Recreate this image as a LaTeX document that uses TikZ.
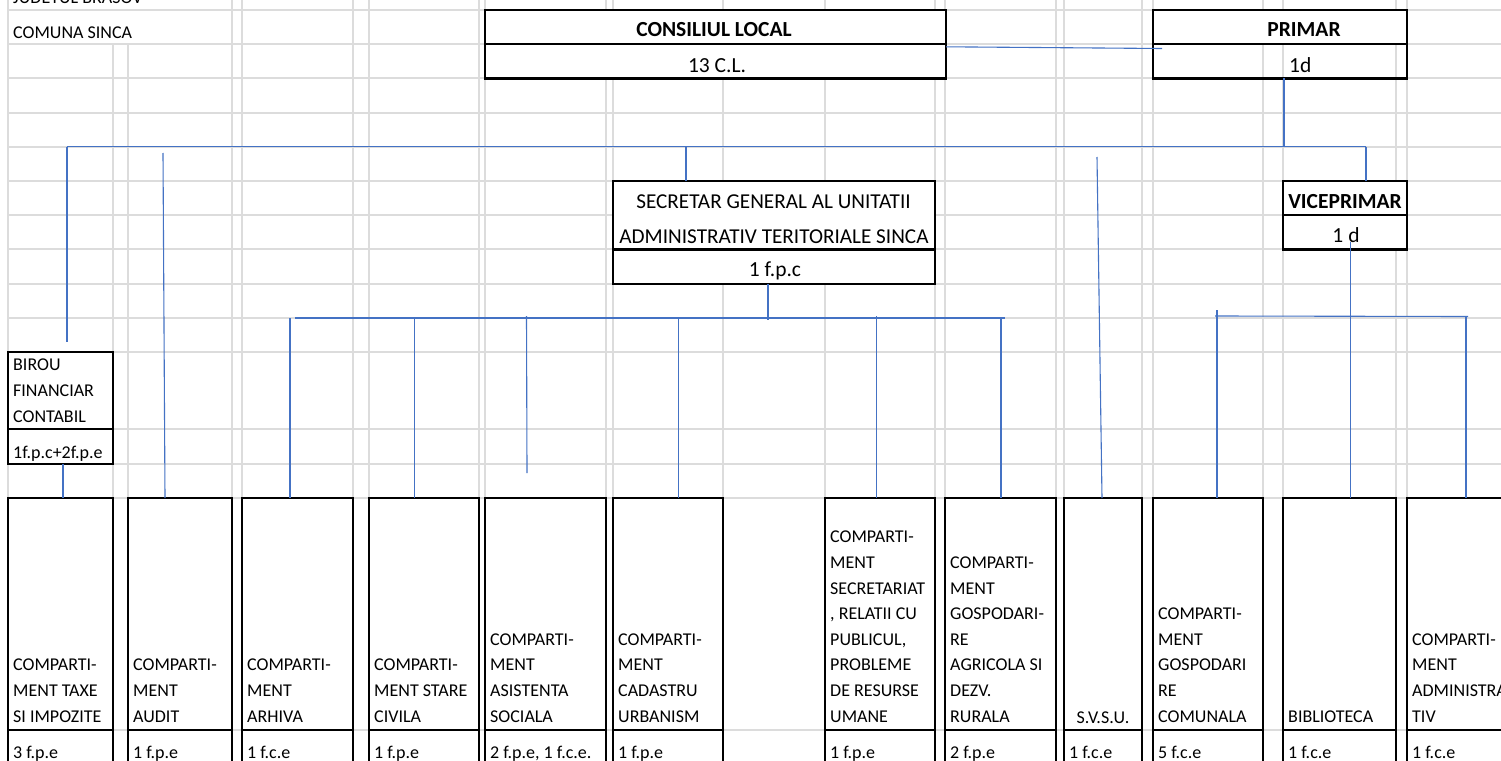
\documentclass[tikz,border=0pt]{standalone}
\usepackage{fontspec}
\setmainfont{Carlito}
\usetikzlibrary{fit,calc}
\definecolor{gridc}{HTML}{DCDCDC}
\definecolor{connc}{HTML}{4472C4}
\newcommand{\stk}[1]{\begin{tabular}[b]{@{}l@{}}#1\end{tabular}}
\tikzset{
  gridline/.style={draw=gridc, line width=2pt},
  boxst/.style={draw=black, fill=white, line width=2.2pt, inner sep=0pt, outer sep=0pt},
  openbox/.style={draw=black, line width=2.2pt, inner sep=0pt, outer sep=0pt},
  connline/.style={draw=connc, line width=1.1pt},
  txtbig/.style={font=\fontsize{21.5}{26}\selectfont, inner sep=0pt},
  txtsec/.style={font=\fontsize{21.2}{26}\selectfont, inner sep=0pt},
  txtbold/.style={font=\fontsize{21.5}{26}\selectfont\bfseries, inner sep=0pt},
  txtsm/.style={font=\fontsize{18}{25.6}\selectfont, inner sep=0pt, anchor=base west},
}
\begin{document}
\begin{tikzpicture}[x=1pt,y=-1pt]
\useasboundingbox (0,0) rectangle (1501,760);
\clip (0,0) rectangle (1501,760);
\fill[white] (0,0) rectangle (1501,760);
% ---------- spreadsheet grid ----------
\foreach \x in {8,232,242,353,369,479,485,606,613,723,825,935,945,1056,1064,1142,1153,1263,1283,1396,1407}
  \draw[gridline] (\x,0) -- (\x,760);
\foreach \x in {113,128}
  \draw[gridline] (\x,44.2) -- (\x,760);
\foreach \y in {10,44.2,78.4,112.6,146.8,181,215.2,249.4,283.6,317.8,352,429,464,498,730}
  \draw[gridline] (8,\y) -- (1501,\y);

% ---------- top boxes ----------
\node[boxst, fit={(485,10) (946,44.2)}] (cl) {};
\node[boxst, fit={(485,44.2) (946,78.4)}] (clb) {};
\node[boxst, fit={(1153,10) (1407,44.2)}] (pr) {};
\node[openbox, fit={(1153,44.2) (1407,78.4)}] (prb) {};
\node[boxst, fit={(613,181) (935,249.4)}] (sec) {};
\node[boxst, fit={(613,249.4) (935,283.6)}] (secb) {};
\node[boxst, fit={(1283,181) (1407,215.2)}] (vice) {};
\node[boxst, fit={(1283,215.2) (1407,249.4)}] (viceb) {};
\node[boxst, fit={(8,352) (113,429)}] (bir) {};
\node[boxst, fit={(8,429) (113,464)}] (birb) {};

% ---------- bottom boxes ----------
\foreach \nm/\xa/\xb in {taxe/8/113, audit/128/232, arhiva/242/353, stare/369/479, asist/485/606, cad/613/723, secr/825/935, gagr/945/1056, svsu/1064/1142, gcom/1153/1263, biblio/1283/1396, admin/1407/1540}{
  \node[boxst, fit={(\xa,498) (\xb,730)}] (\nm) {};
  \node[boxst, fit={(\xa,730) (\xb,800)}] (\nm b) {};
}

% ---------- connectors ----------
\coordinate (cp) at (1162,48.5);
\draw[connline] ([yshift=-2.6pt]cl.south east) -- (cp);
\coordinate (bL) at (67,146.5);
\coordinate (bR) at (1366,146.5);
\draw[connline] (bL) -- (bR);
\coordinate (pd) at (1284,146.5);
\draw[connline] (pd |- prb.south) -- (pd);
\coordinate (bd) at (67,342);
\draw[connline] (bL) -- (bd);
\coordinate (ad) at (163,153);
\draw[connline] (ad) -- ([xshift=-15pt]audit.north);
\coordinate (sd) at (686,146.5);
\draw[connline] (sd) -- (sd |- sec.north);
\coordinate (svd) at (1097,157);
\draw[connline] (svd) -- ([xshift=-1pt]svsu.north);
\draw[connline] (bR) -- (bR |- vice.north);
\draw[connline] ([xshift=2.5pt]birb.south) -- ([xshift=2.5pt]taxe.north);

% secretar branch
\coordinate (sL) at (295,318);
\coordinate (sR) at (1005,318);
\draw[connline] (sL) -- (sR);
\coordinate (sdr) at ([xshift=-6pt]secb.south);
\draw[connline] (sdr) -- ++(0,36);
\coordinate (a1) at (290,318);
\draw[connline] (a1) -- (a1 |- arhiva.north);
\coordinate (a2) at (414.5,318);
\draw[connline] (a2) -- (a2 |- stare.north);
\coordinate (a3) at (526.5,316);
\coordinate (a3e) at (527,473);
\draw[connline] (a3) -- (a3e);
\coordinate (a4) at (678.5,318);
\draw[connline] (a4) -- (a4 |- cad.north);
\coordinate (a5) at (876.5,316);
\draw[connline] (a5) -- (a5 |- secr.north);
\coordinate (a6) at (1001,318);
\draw[connline] (a6) -- (a6 |- gagr.north);

% viceprimar branch
\coordinate (vL) at (1215,316);
\coordinate (vR) at (1468,316.5);
\draw[connline] (vL) -- (vR);
\coordinate (vv) at (1350.5,242);
\draw[connline] (vv) -- (vv |- biblio.north);
\coordinate (g1) at (1217,310);
\draw[connline] (g1) -- (g1 |- gcom.north);
\coordinate (g2) at (1466,316.5);
\draw[connline] (g2) -- (g2 |- admin.north);

% ---------- texts ----------
\node[txtsm] (jud) at (13,4) {JUDETUL BRASOV};
\node[txtsm] (com) at (13,38) {COMUNA SINCA};
\node[txtbold, anchor=base] (clt) at (714,37) {CONSILIUL LOCAL};
\node[txtbig, anchor=base] (clnum) at (717,72.5) {13 C.L.};
\node[txtbold, anchor=base] (prt) at (1304,37) {PRIMAR};
\node[txtbig, anchor=base west] (prnum) at (1289,72.5) {1d};
\node[txtsec, anchor=base] (s1) at (773.5,208) {SECRETAR GENERAL AL UNITATII};
\node[txtsec, anchor=base] (s2) at (774,243) {ADMINISTRATIV TERITORIALE SINCA};
\node[txtbig, anchor=base] (s3) at (775,276) {1 f.p.c};
\node[txtbold, anchor=base] (v1) at (1345,208) {VICEPRIMAR};
\node[txtbig, anchor=base] (v2) at (1346,242) {1 d};
\node[txtsm] (birt) at (13,422) {\stk{BIROU\\FINANCIAR\\CONTABIL}};
\node[txtsm] (birn) at (13,458) {1f.p.c+2f.p.e};

\node[txtsm] (t1) at (13,722) {\stk{COMPARTI-\\MENT TAXE\\SI IMPOZITE}};
\node[txtsm] (t2) at (133,722) {\stk{COMPARTI-\\MENT\\AUDIT}};
\node[txtsm] (t3) at (247,722) {\stk{COMPARTI-\\MENT\\ARHIVA}};
\node[txtsm] (t4) at (374,722) {\stk{COMPARTI-\\MENT STARE\\CIVILA}};
\node[txtsm] (t5) at (490,722) {\stk{COMPARTI-\\MENT\\ASISTENTA\\SOCIALA}};
\node[txtsm] (t6) at (618,722) {\stk{COMPARTI-\\MENT\\CADASTRU\\URBANISM}};
\node[txtsm] (t7) at (830,722) {\stk{COMPARTI-\\MENT\\SECRETARIAT\\, RELATII CU\\PUBLICUL,\\PROBLEME\\DE RESURSE\\UMANE}};
\node[txtsm] (t8) at (950,722) {\stk{COMPARTI-\\MENT\\GOSPODARI-\\RE\\AGRICOLA SI\\DEZV.\\RURALA}};
\node[txtsm, anchor=base] (t9) at (1103,723.5) {S.V.S.U.};
\node[txtsm] (t10) at (1158,722) {\stk{COMPARTI-\\MENT\\GOSPODARI\\RE\\COMUNALA}};
\node[txtsm] (t11) at (1288,722) {BIBLIOTECA};
\node[txtsm] (t12) at (1412,722) {\stk{COMPARTI-\\MENT\\ADMINISTRA\\TIV}};

\node[txtsm] (n1) at (13,758) {3 f.p.e};
\node[txtsm] (n2) at (133,758) {1 f.p.e};
\node[txtsm] (n3) at (247,758) {1 f.c.e};
\node[txtsm] (n4) at (374,758) {1 f.p.e};
\node[txtsm] (n5) at (490,758) {2 f.p.e, 1 f.c.e.};
\node[txtsm] (n6) at (618,758) {1 f.p.e};
\node[txtsm] (n7) at (830,758) {1 f.p.e};
\node[txtsm] (n8) at (950,758) {2 f.p.e};
\node[txtsm] (n9) at (1069,758) {1 f.c.e};
\node[txtsm] (n10) at (1158,758) {5 f.c.e};
\node[txtsm] (n11) at (1288,758) {1 f.c.e};
\node[txtsm] (n12) at (1412,758) {1 f.c.e};
\end{tikzpicture}
\end{document}
